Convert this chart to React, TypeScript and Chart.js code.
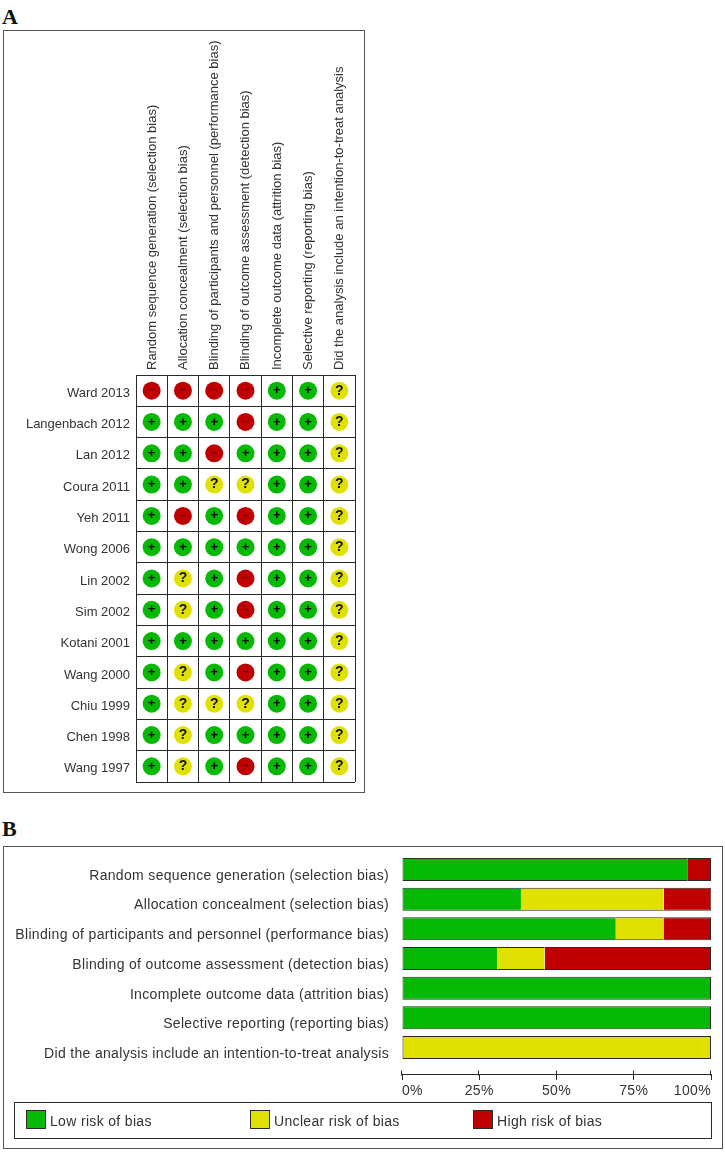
import React, { useEffect, useRef } from "react";
import { Chart, registerables } from "chart.js";

Chart.register(...registerables);

const domains = [
  "Random sequence generation (selection bias)",
  "Allocation concealment (selection bias)",
  "Blinding of participants and personnel (performance bias)",
  "Blinding of outcome assessment (detection bias)",
  "Incomplete outcome data (attrition bias)",
  "Selective reporting (reporting bias)",
  "Did the analysis include an intention-to-treat analysis",
];
const studies = [
  "Ward 2013", "Langenbach 2012", "Lan 2012", "Coura 2011", "Yeh 2011", "Wong 2006", "Lin 2002",
  "Sim 2002", "Kotani 2001", "Wang 2000", "Chiu 1999", "Chen 1998", "Wang 1997",
];
const judgements = [
  ["-", "-", "-", "-", "+", "+", "?"],
  ["+", "+", "+", "-", "+", "+", "?"],
  ["+", "+", "-", "+", "+", "+", "?"],
  ["+", "+", "?", "?", "+", "+", "?"],
  ["+", "-", "+", "-", "+", "+", "?"],
  ["+", "+", "+", "+", "+", "+", "?"],
  ["+", "?", "+", "-", "+", "+", "?"],
  ["+", "?", "+", "-", "+", "+", "?"],
  ["+", "+", "+", "+", "+", "+", "?"],
  ["+", "?", "+", "-", "+", "+", "?"],
  ["+", "?", "?", "?", "+", "+", "?"],
  ["+", "?", "+", "+", "+", "+", "?"],
  ["+", "?", "+", "-", "+", "+", "?"],
];
const lowValues = [92.3, 38.5, 69.2, 30.8, 100, 100, 0];
const unclearValues = [0, 46.2, 15.4, 15.4, 0, 0, 100];
const highValues = [7.7, 15.4, 15.4, 53.8, 0, 0, 0];
const percentTicks = [0, 25, 50, 75, 100];
const legendLabels = ["Low risk of bias", "Unclear risk of bias", "High risk of bias"];

const GREEN = "#05b905";
const YELLOW = "#e1e100";
const RED = "#c00000";
const INK = "#333333";
const LINE = "#2a2a2a";
const FAMILY = "'Liberation Sans', Arial, sans-serif";

const points = (code: string) => {
  const out: { x: string; y: string }[] = [];
  judgements.forEach((row, r) =>
    row.forEach((c, d) => {
      if (c === code) out.push({ x: domains[d], y: studies[r] });
    })
  );
  return out;
};

const glyphPlugin = {
  id: "glyphs",
  afterDatasetsDraw(chart: any) {
    const { ctx } = chart;
    ctx.save();
    ctx.textAlign = "center";
    ctx.textBaseline = "middle";
    chart.data.datasets.forEach((ds: any, i: number) => {
      chart.getDatasetMeta(i).data.forEach((el: any) => {
        ctx.fillStyle = ds.glyphColor;
        ctx.font = ds.glyphFont;
        ctx.fillText(ds.glyph, el.x, el.y + ds.glyphDy);
      });
    });
    ctx.restore();
  },
};

const spacingPlugin = {
  id: "textSpacing",
  beforeDraw(chart: any) {
    chart.ctx.letterSpacing = "0.33px";
  },
};

const axisPlugin = {
  id: "upperTicks",
  afterDraw(chart: any) {
    const { ctx, scales } = chart;
    const y = Math.round(scales.y.getPixelForValue(6.92)) + 0.5;
    ctx.save();
    ctx.strokeStyle = LINE;
    ctx.lineWidth = 1;
    scales.x.ticks.forEach((t: any) => {
      const x = Math.round(scales.x.getPixelForValue(t.value)) - 0.5;
      ctx.beginPath();
      ctx.moveTo(x, y - 5);
      ctx.lineTo(x, y);
      ctx.stroke();
    });
    ctx.restore();
  },
};

const legendPlugin = {
  id: "riskLegend",
  afterDraw(chart: any) {
    const { ctx } = chart;
    const top = 1102 - 810;
    ctx.save();
    ctx.strokeStyle = LINE;
    ctx.lineWidth = 1;
    ctx.strokeRect(14.5, top + 0.5, 697, 36);
    const xs = [26, 250, 473];
    chart.data.datasets.forEach((ds: any, i: number) => {
      ctx.fillStyle = ds.backgroundColor;
      ctx.fillRect(xs[i], top + 8, 20, 19);
      ctx.strokeRect(xs[i] + 0.5, top + 8.5, 19, 18);
      ctx.fillStyle = INK;
      ctx.font = `14px ${FAMILY}`;
      ctx.textAlign = "left";
      ctx.textBaseline = "middle";
      ctx.fillText(ds.label, xs[i] + 24, top + 20);
    });
    ctx.restore();
  },
};

const frame = (left: number, top: number, w: number, h: number): React.CSSProperties => ({
  position: "absolute",
  left,
  top,
  width: w,
  height: h,
  boxSizing: "border-box",
  border: "1px solid #555",
});
const heading = (top: number): React.CSSProperties => ({
  position: "absolute",
  left: 2,
  top,
  font: "bold 22px 'Liberation Serif', serif",
  lineHeight: "26px",
  color: "#111",
});

export default function App() {
  const gridRef = useRef<HTMLCanvasElement>(null);
  const barRef = useRef<HTMLCanvasElement>(null);

  useEffect(() => {
    const grid = new Chart(gridRef.current!, {
      type: "scatter",
      data: {
        datasets: [
          { label: "Low", data: points("+"), backgroundColor: GREEN, borderColor: GREEN, glyph: "+", glyphColor: "#000000", glyphFont: `bold 13px ${FAMILY}`, glyphDy: 0 },
          { label: "Unclear", data: points("?"), backgroundColor: YELLOW, borderColor: YELLOW, glyph: "?", glyphColor: "#111100", glyphFont: `bold 14px ${FAMILY}`, glyphDy: 0 },
          { label: "High", data: points("-"), backgroundColor: RED, borderColor: RED, glyph: "−", glyphColor: "#660000", glyphFont: `bold 10px ${FAMILY}`, glyphDy: 0 },
        ] as any,
      },
      options: {
        responsive: false,
        animation: false,
        events: [],
        layout: { padding: { left: 0, top: 30, right: 370, bottom: 28 } },
        elements: { point: { radius: 9, borderWidth: 0, hoverRadius: 9 } },
        plugins: { legend: { display: false }, tooltip: { enabled: false } },
        scales: {
          x: {
            type: "category",
            position: "top",
            labels: domains,
            offset: true,
            afterFit: (s: any) => { s.height = 345; },
            grid: { display: true, color: LINE, lineWidth: 1, drawTicks: false, offset: true },
            border: { display: true, color: LINE },
            ticks: { autoSkip: false, minRotation: 90, maxRotation: 90, padding: 5, labelOffset: 16, color: INK, font: { family: FAMILY, size: 13 } },
          },
          y: {
            type: "category",
            labels: studies,
            offset: true,
            afterFit: (s: any) => { s.width = 136; },
            grid: { display: true, color: LINE, lineWidth: 1, drawTicks: false, offset: true },
            border: { display: true, color: LINE },
            ticks: { autoSkip: false, padding: 6, labelOffset: 2.5, color: INK, font: { family: FAMILY, size: 13 } },
          },
        },
      } as any,
      plugins: [glyphPlugin],
    });

    const segmentBorder = (ctx: any) => {
      const sets = [lowValues, unclearValues, highValues];
      const before = sets.slice(0, ctx.datasetIndex).every((v) => v[ctx.dataIndex] === 0);
      const after = sets.slice(ctx.datasetIndex + 1).every((v) => v[ctx.dataIndex] === 0);
      return { top: 1, bottom: 1, left: before ? 1 : 0, right: after ? 1 : 0 };
    };

    const bars = new Chart(barRef.current!, {
      type: "bar",
      data: {
        labels: domains,
        datasets: [
          { label: legendLabels[0], data: lowValues, backgroundColor: GREEN },
          { label: legendLabels[1], data: unclearValues, backgroundColor: YELLOW },
          { label: legendLabels[2], data: highValues, backgroundColor: RED },
        ],
      },
      options: {
        indexAxis: "y",
        responsive: false,
        animation: false,
        events: [],
        layout: { padding: { left: 0, top: 44.6, right: 14, bottom: 89.6 } },
        datasets: {
          bar: {
            barThickness: 23,
            borderColor: LINE,
            borderSkipped: false,
            inflateAmount: 0,
            borderWidth: segmentBorder,
          },
        },
        plugins: { legend: { display: false }, tooltip: { enabled: false } },
        scales: {
          x: {
            type: "linear",
            stacked: true,
            min: 0,
            max: 100,
            position: { y: 6.92 },
            afterBuildTicks: (s: any) => { s.ticks = percentTicks.map((value) => ({ value })); },
            grid: { display: true, drawOnChartArea: false, drawTicks: true, tickLength: 5, color: LINE, lineWidth: 1 },
            border: { display: true, color: LINE },
            ticks: { align: "inner", padding: 3, maxRotation: 0, autoSkip: false, color: INK, font: { family: FAMILY, size: 14 }, callback: (v: any) => `${v}%` },
          },
          y: {
            type: "category",
            stacked: true,
            offset: true,
            afterFit: (s: any) => { s.width = 402; },
            grid: { display: false, drawTicks: false },
            border: { display: false },
            ticks: { autoSkip: false, padding: 13, labelOffset: 6.5, color: INK, font: { family: FAMILY, size: 14 } },
          },
        },
      } as any,
      plugins: [spacingPlugin, axisPlugin, legendPlugin],
    });

    return () => {
      grid.destroy();
      bars.destroy();
    };
  }, []);

  return (
    <div style={{ position: "absolute", left: 0, top: 0, width: 725, height: 1152, background: "#fff", overflow: "hidden" }}>
      <div style={heading(4)}>A</div>
      <div style={frame(3, 30, 362, 763)} />
      <canvas ref={gridRef} width={725} height={810} style={{ position: "absolute", left: 0, top: 0, display: "block" }} />
      <div style={heading(816)}>B</div>
      <div style={frame(3, 846, 720, 303)} />
      <canvas ref={barRef} width={725} height={342} style={{ position: "absolute", left: 0, top: 810, display: "block" }} />
    </div>
  );
}
